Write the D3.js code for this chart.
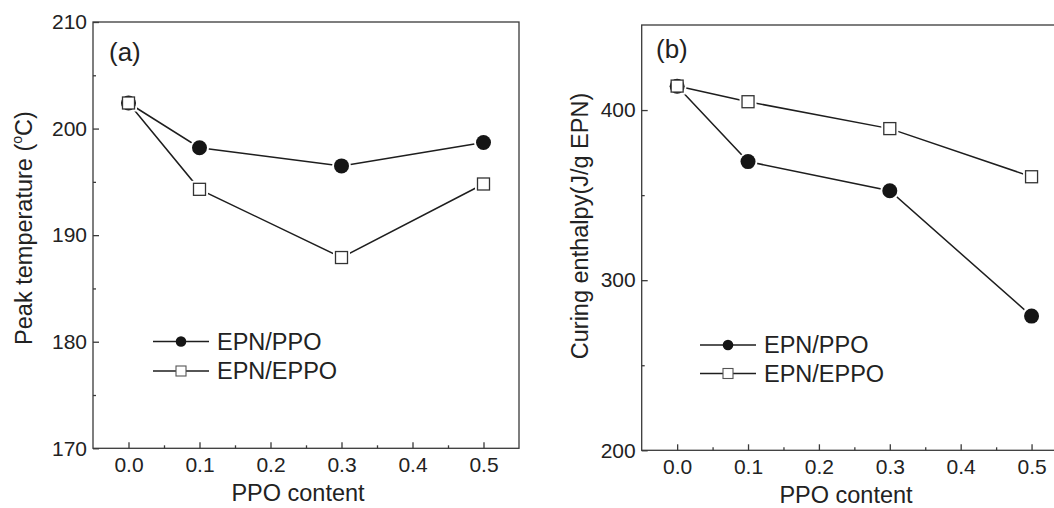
<!DOCTYPE html>
<html>
<head>
<meta charset="utf-8">
<script src="https://cdn.jsdelivr.net/npm/d3@7"></script>
<style>
  html, body { margin: 0; padding: 0; background: #fff; }
  svg { display: block; }
  text { font-family: "Liberation Sans", Arial, Helvetica, sans-serif; fill: #222; }
</style>
</head>
<body>
<svg id="chart" width="1054" height="508"></svg>
<script>
// ---------- data ----------
const ppoContent = [0.0, 0.1, 0.3, 0.5];
const seriesNames = ["EPN/PPO", "EPN/EPPO"];
// panel (a): peak temperature (°C)
const peakTempPPO  = [202.4, 198.2, 196.5, 198.7];
const peakTempEPPO = [202.4, 194.3, 187.9, 194.8];
// panel (b): curing enthalpy (J/g EPN)
const enthalpyPPO  = [414.0, 369.7, 352.6, 278.9];
const enthalpyEPPO = [414.1, 404.9, 389.1, 360.8];
// axis ticks
const xTicks = [0.0, 0.1, 0.2, 0.3, 0.4, 0.5];
const xMinorTicks = [-0.05, 0.05, 0.15, 0.25, 0.35, 0.45, 0.55];
const yTicksA = [170, 180, 190, 200, 210];
const yMinorTicksA = [175, 185, 195, 205];
const yTicksB = [200, 300, 400];
const yMinorTicksB = [250, 350, 450];

const svg = d3.select("#chart");
const ink = "#1e1e1e";
const frameColor = "#3a3a3a";

const panels = [
  {
    label: "(a)", x0: 93, x1: 519, y0: 448.3, y1: 22,
    yDomain: [170, 210], yTicks: yTicksA, yMinor: yMinorTicksA,
    series: [peakTempPPO, peakTempEPPO],
    yTitle: [{t: "Peak temperature ("}, {t: "o", sup: true}, {t: "C)"}],
    yTitleX: 32, yTitleY: 228,
    labelPos: [109, 61],
    legendX: 153, legendY: 341.5, legendDy: 29.5,
    xTitleX: 298, xTitleY: 501
  },
  {
    label: "(b)", x0: 641.7, x1: 1067, y0: 450.3, y1: 25,
    yDomain: [200, 450], yTicks: yTicksB, yMinor: yMinorTicksB,
    series: [enthalpyPPO, enthalpyEPPO],
    yTitle: [{t: "Curing enthalpy(J/g EPN)"}],
    yTitleX: 588, yTitleY: 226,
    labelPos: [656, 58],
    legendX: 700, legendY: 345, legendDy: 28.5,
    xTitleX: 846, xTitleY: 503
  }
];

panels.forEach(p => {
  const x = d3.scaleLinear().domain([-0.05, 0.55]).range([p.x0, p.x1]);
  const y = d3.scaleLinear().domain(p.yDomain).range([p.y0, p.y1]);
  const g = svg.append("g");

  // frame
  g.append("rect")
    .attr("x", p.x0).attr("y", p.y1)
    .attr("width", p.x1 - p.x0).attr("height", p.y0 - p.y1)
    .attr("fill", "none").attr("stroke", frameColor).attr("stroke-width", 1.3);

  // x axis major
  const xa = g.append("g").attr("transform", `translate(0,${p.y0})`)
    .call(d3.axisBottom(x).tickValues(xTicks).tickFormat(d3.format(".1f"))
      .tickSizeInner(-6).tickSizeOuter(0).tickPadding(9));
  // x axis minor
  const xm = g.append("g").attr("transform", `translate(0,${p.y0})`)
    .call(d3.axisBottom(x).tickValues(xMinorTicks.filter(v => x(v) > p.x0 + 1 && x(v) < p.x1 - 1))
      .tickFormat("").tickSizeInner(-3).tickSizeOuter(0));
  // y axis major
  const ya = g.append("g").attr("transform", `translate(${p.x0},0)`)
    .call(d3.axisLeft(y).tickValues(p.yTicks).tickFormat(d3.format("d"))
      .tickSizeInner(-6).tickSizeOuter(0).tickPadding(6));
  const ym = g.append("g").attr("transform", `translate(${p.x0},0)`)
    .call(d3.axisLeft(y).tickValues(p.yMinor.filter(v => y(v) > p.y1 + 1 && y(v) < p.y0 - 1))
      .tickFormat("").tickSizeInner(-3).tickSizeOuter(0));

  [xa, xm, ya, ym].forEach(a => {
    a.select(".domain").remove();
    a.selectAll("line").attr("stroke", frameColor).attr("stroke-width", 1.3);
    a.selectAll("text").attr("font-size", 21).attr("fill", "#222")
      .attr("font-family", '"Liberation Sans", Arial, sans-serif');
  });

  // x title
  g.append("text").attr("x", p.xTitleX).attr("y", p.xTitleY)
    .attr("text-anchor", "middle").attr("font-size", 23.5).text("PPO content");

  // y title
  const yt = g.append("text")
    .attr("transform", `translate(${p.yTitleX},${p.yTitleY}) rotate(-90)`)
    .attr("text-anchor", "middle").attr("font-size", 23.5);
  p.yTitle.forEach(part => {
    const ts = yt.append("tspan").text(part.t);
    if (part.sup) ts.attr("font-size", 14).attr("dy", "-0.75em");
    else if (yt.selectAll("tspan").size() > 1) ts.attr("dy", "0.46em");
  });

  // panel label
  g.append("text").attr("x", p.labelPos[0]).attr("y", p.labelPos[1])
    .attr("font-size", 26).text(p.label);

  // lines
  const line = d3.line().x((d, i) => x(ppoContent[i])).y(d => y(d));
  p.series.forEach(s => {
    g.append("path").datum(s).attr("d", line)
      .attr("fill", "none").attr("stroke", ink).attr("stroke-width", 1.5);
  });

  // halos (small gaps between lines and markers)
  p.series.forEach((s, si) => {
    if (si === 0) {
      g.selectAll(null).data(s).enter().append("circle")
        .attr("cx", (d, i) => x(ppoContent[i])).attr("cy", d => y(d))
        .attr("r", 9.5).attr("fill", "#fff");
    } else {
      g.selectAll(null).data(s).enter().append("rect")
        .attr("x", (d, i) => x(ppoContent[i]) - 8.5).attr("y", d => y(d) - 8.5)
        .attr("width", 17).attr("height", 17).attr("fill", "#fff");
    }
  });

  // markers
  g.selectAll(null).data(p.series[0]).enter().append("circle")
    .attr("cx", (d, i) => x(ppoContent[i])).attr("cy", d => y(d))
    .attr("r", 7.5).attr("fill", "#151515");
  g.selectAll(null).data(p.series[1]).enter().append("rect")
    .attr("x", (d, i) => x(ppoContent[i]) - 6).attr("y", d => y(d) - 6)
    .attr("width", 12).attr("height", 12)
    .attr("fill", "#fff").attr("stroke", "#333").attr("stroke-width", 1.3);

  // legend
  seriesNames.forEach((name, si) => {
    const ly = p.legendY + si * p.legendDy;
    const lg = g.append("g");
    lg.append("line").attr("x1", p.legendX).attr("x2", p.legendX + 56)
      .attr("y1", ly).attr("y2", ly).attr("stroke", ink).attr("stroke-width", 1.5);
    const cx = p.legendX + 28;
    if (si === 0) {
      lg.append("circle").attr("cx", cx).attr("cy", ly).attr("r", 5.3).attr("fill", "#151515");
    } else {
      lg.append("rect").attr("x", cx - 5).attr("y", ly - 5).attr("width", 10).attr("height", 10)
        .attr("fill", "#fff").attr("stroke", "#555").attr("stroke-width", 1.1);
    }
    lg.append("text").attr("x", p.legendX + 64).attr("y", ly + 8)
      .attr("font-size", 23.5).text(name);
  });
});
</script>
</body>
</html>
